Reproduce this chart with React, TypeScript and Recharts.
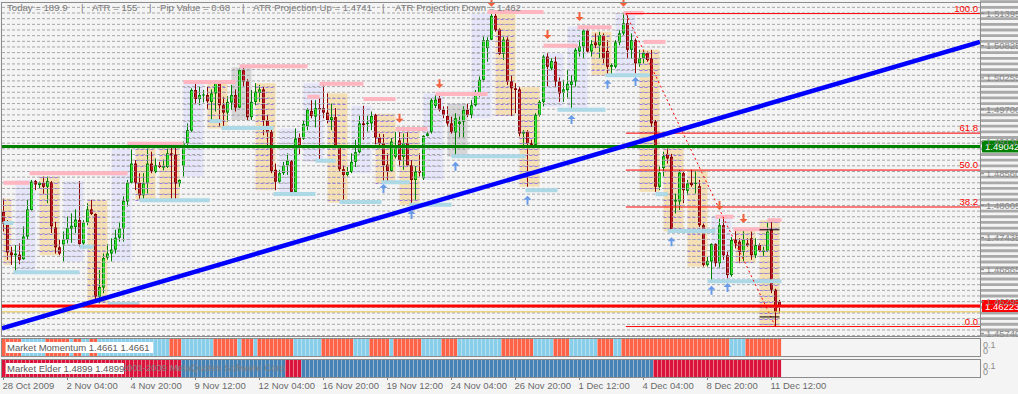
import React from 'react';
import { ComposedChart, BarChart, Bar, XAxis, YAxis, ReferenceLine, ReferenceArea, ReferenceDot, Cell } from 'recharts';

const FONT = '"Liberation Sans", Arial, sans-serif';
const BG = '#f4f4f4';

// ---------- data (H4 EURUSD-like bars, 28 Oct 2009 12:00 .. 11 Dec 2009 16:00) ----------
const OPEN = [
  1.4789, 1.4770, 1.4717, 1.4712, 1.4713, 1.4705, 1.4745, 1.4792, 1.4843, 1.4836,
  1.4840, 1.4833, 1.4841, 1.4761, 1.4726, 1.4731, 1.4740, 1.4759, 1.4762, 1.4774,
  1.4733, 1.4770, 1.4793, 1.4785, 1.4639, 1.4655, 1.4708, 1.4715, 1.4722, 1.4743,
  1.4759, 1.4807, 1.4840, 1.4874, 1.4840, 1.4818, 1.4840, 1.4874, 1.4859, 1.4871,
  1.4867, 1.4868, 1.4892, 1.4890, 1.4839, 1.4870, 1.4910, 1.4932, 1.5004, 1.4988,
  1.4995, 1.4995, 1.4983, 1.4998, 1.5017, 1.4977, 1.4964, 1.4982, 1.4995, 1.4973,
  1.5039, 1.5019, 1.4956, 1.4983, 1.4999, 1.5005, 1.4950, 1.4930, 1.4863, 1.4842,
  1.4857, 1.4871, 1.4878, 1.4824, 1.4920, 1.4918, 1.4940, 1.4967, 1.4957, 1.4972,
  1.4972, 1.4964, 1.4951, 1.4956, 1.4903, 1.4864, 1.4854, 1.4859, 1.4877, 1.4894,
  1.4945, 1.4944, 1.4945, 1.4960, 1.4920, 1.4910, 1.4872, 1.4861, 1.4886, 1.4915,
  1.4886, 1.4910, 1.4871, 1.4845, 1.4861, 1.4848, 1.4923, 1.4930, 1.4976, 1.4989,
  1.4969, 1.4958, 1.4945, 1.4929, 1.4944, 1.4948, 1.4969, 1.4960, 1.4977, 1.4997,
  1.5022, 1.5078, 1.5093, 1.5135, 1.5111, 1.5068, 1.5093, 1.5019, 1.5007, 1.5005,
  1.4927, 1.4930, 1.4910, 1.4907, 1.4960, 1.4983, 1.5063, 1.5042, 1.5054, 1.5019,
  1.4999, 1.5004, 1.5013, 1.5019, 1.5072, 1.5081, 1.5109, 1.5072, 1.5088, 1.5083,
  1.5101, 1.5073, 1.5045, 1.5045, 1.5088, 1.5104, 1.5122, 1.5075, 1.5092, 1.5051,
  1.5060, 1.5069, 1.5060, 1.4948, 1.4833, 1.4866, 1.4891, 1.4886, 1.4807, 1.4807,
  1.4857, 1.4826, 1.4840, 1.4838, 1.4834, 1.4765, 1.4695, 1.4701, 1.4732, 1.4698,
  1.4765, 1.4712, 1.4677, 1.4739, 1.4736, 1.4718, 1.4733, 1.4742, 1.4712, 1.4730,
  1.4718, 1.4720, 1.4757, 1.4651, 1.4630,
];
const HIGH = [
  1.4812, 1.4774, 1.4727, 1.4730, 1.4733, 1.4763, 1.4810, 1.4845, 1.4845, 1.4842,
  1.4851, 1.4851, 1.4843, 1.4771, 1.4739, 1.4754, 1.4781, 1.4786, 1.4793, 1.4843,
  1.4774, 1.4804, 1.4810, 1.4786, 1.4686, 1.4715, 1.4732, 1.4742, 1.4757, 1.4771,
  1.4816, 1.4845, 1.4899, 1.4880, 1.4857, 1.4857, 1.4901, 1.4895, 1.4883, 1.4877,
  1.4881, 1.4901, 1.4903, 1.4910, 1.4846, 1.4913, 1.4945, 1.5007, 1.5019, 1.5010,
  1.5004, 1.5010, 1.5005, 1.5019, 1.5020, 1.4992, 1.4993, 1.5013, 1.5005, 1.5042,
  1.5044, 1.5023, 1.5004, 1.5016, 1.5013, 1.5010, 1.4960, 1.4936, 1.4874, 1.4863,
  1.4877, 1.4892, 1.4880, 1.4936, 1.4927, 1.4951, 1.4972, 1.4986, 1.4986, 1.4989,
  1.5016, 1.4998, 1.4980, 1.4972, 1.4907, 1.4871, 1.4868, 1.4892, 1.4916, 1.4958,
  1.4976, 1.4958, 1.4966, 1.4962, 1.4927, 1.4926, 1.4892, 1.4919, 1.4930, 1.4930,
  1.4927, 1.4930, 1.4880, 1.4869, 1.4892, 1.4924, 1.4930, 1.4989, 1.4995, 1.4998,
  1.4975, 1.4975, 1.4957, 1.4963, 1.4957, 1.4975, 1.4980, 1.4986, 1.5004, 1.5028,
  1.5098, 1.5097, 1.5139, 1.5139, 1.5113, 1.5098, 1.5097, 1.5029, 1.5016, 1.5009,
  1.4933, 1.4933, 1.4916, 1.4963, 1.4986, 1.5066, 1.5069, 1.5060, 1.5063, 1.5026,
  1.5022, 1.5039, 1.5030, 1.5078, 1.5092, 1.5113, 1.5116, 1.5092, 1.5104, 1.5107,
  1.5104, 1.5092, 1.5051, 1.5092, 1.5110, 1.5140, 1.5136, 1.5104, 1.5095, 1.5075,
  1.5075, 1.5072, 1.5075, 1.4951, 1.4869, 1.4895, 1.4904, 1.4891, 1.4821, 1.4863,
  1.4860, 1.4845, 1.4863, 1.4860, 1.4845, 1.4768, 1.4709, 1.4733, 1.4733, 1.4777,
  1.4780, 1.4718, 1.4744, 1.4757, 1.4742, 1.4757, 1.4742, 1.4754, 1.4742, 1.4733,
  1.4727, 1.4771, 1.4774, 1.4653, 1.4633,
];
const LOW = [
  1.4754, 1.4704, 1.4695, 1.4681, 1.4696, 1.4704, 1.4739, 1.4791, 1.4827, 1.4830,
  1.4820, 1.4804, 1.4751, 1.4715, 1.4712, 1.4701, 1.4733, 1.4734, 1.4751, 1.4727,
  1.4724, 1.4765, 1.4783, 1.4634, 1.4627, 1.4645, 1.4704, 1.4701, 1.4715, 1.4736,
  1.4736, 1.4798, 1.4839, 1.4827, 1.4811, 1.4810, 1.4821, 1.4857, 1.4857, 1.4866,
  1.4862, 1.4866, 1.4810, 1.4811, 1.4833, 1.4851, 1.4907, 1.4930, 1.4980, 1.4977,
  1.4982, 1.4969, 1.4948, 1.4966, 1.4939, 1.4936, 1.4948, 1.4969, 1.4966, 1.4972,
  1.5010, 1.4951, 1.4951, 1.4977, 1.4983, 1.4924, 1.4901, 1.4857, 1.4827, 1.4839,
  1.4854, 1.4854, 1.4822, 1.4821, 1.4889, 1.4916, 1.4933, 1.4954, 1.4938, 1.4877,
  1.4954, 1.4945, 1.4933, 1.4901, 1.4860, 1.4805, 1.4851, 1.4857, 1.4868, 1.4892,
  1.4916, 1.4930, 1.4933, 1.4908, 1.4901, 1.4840, 1.4839, 1.4860, 1.4883, 1.4869,
  1.4863, 1.4869, 1.4801, 1.4810, 1.4851, 1.4845, 1.4922, 1.4927, 1.4972, 1.4966,
  1.4954, 1.4939, 1.4927, 1.4886, 1.4919, 1.4920, 1.4956, 1.4954, 1.4975, 1.4992,
  1.5019, 1.5054, 1.5092, 1.5107, 1.5066, 1.5057, 1.5013, 1.4958, 1.4963, 1.4922,
  1.4904, 1.4833, 1.4904, 1.4904, 1.4957, 1.4975, 1.5010, 1.5039, 1.5010, 1.4983,
  1.4983, 1.4989, 1.4969, 1.5010, 1.5063, 1.5060, 1.5069, 1.5063, 1.5078, 1.5060,
  1.5051, 1.5030, 1.5030, 1.5042, 1.5083, 1.5101, 1.5060, 1.5060, 1.5033, 1.5045,
  1.5051, 1.5054, 1.4939, 1.4824, 1.4827, 1.4851, 1.4874, 1.4754, 1.4786, 1.4792,
  1.4804, 1.4818, 1.4833, 1.4821, 1.4762, 1.4692, 1.4692, 1.4665, 1.4692, 1.4689,
  1.4704, 1.4671, 1.4674, 1.4724, 1.4698, 1.4701, 1.4727, 1.4704, 1.4707, 1.4718,
  1.4709, 1.4718, 1.4645, 1.4586, 1.4609,
];
const CLOSE = [
  1.4768, 1.4717, 1.4712, 1.4715, 1.4704, 1.4745, 1.4793, 1.4842, 1.4837, 1.4840,
  1.4833, 1.4843, 1.4763, 1.4726, 1.4715, 1.4740, 1.4760, 1.4764, 1.4775, 1.4732,
  1.4770, 1.4793, 1.4785, 1.4639, 1.4656, 1.4707, 1.4715, 1.4722, 1.4743, 1.4759,
  1.4808, 1.4840, 1.4874, 1.4840, 1.4818, 1.4839, 1.4874, 1.4861, 1.4871, 1.4868,
  1.4870, 1.4892, 1.4889, 1.4839, 1.4845, 1.4910, 1.4933, 1.5004, 1.4988, 1.4995,
  1.4996, 1.4984, 1.4998, 1.5017, 1.4977, 1.4964, 1.4983, 1.4995, 1.4973, 1.5039,
  1.5019, 1.4956, 1.4983, 1.5001, 1.5005, 1.4950, 1.4930, 1.4861, 1.4842, 1.4857,
  1.4871, 1.4879, 1.4824, 1.4918, 1.4903, 1.4944, 1.4969, 1.4958, 1.4972, 1.4970,
  1.4964, 1.4951, 1.4956, 1.4903, 1.4864, 1.4854, 1.4859, 1.4877, 1.4894, 1.4945,
  1.4942, 1.4946, 1.4958, 1.4920, 1.4910, 1.4871, 1.4861, 1.4913, 1.4904, 1.4880,
  1.4910, 1.4871, 1.4845, 1.4860, 1.4858, 1.4923, 1.4927, 1.4986, 1.4987, 1.4969,
  1.4960, 1.4945, 1.4930, 1.4954, 1.4948, 1.4969, 1.4960, 1.4977, 1.4998, 1.5022,
  1.5092, 1.5092, 1.5135, 1.5110, 1.5068, 1.5093, 1.5019, 1.5007, 1.5004, 1.4927,
  1.4930, 1.4910, 1.4907, 1.4960, 1.4983, 1.5063, 1.5045, 1.5055, 1.5019, 1.4998,
  1.5005, 1.5015, 1.5019, 1.5075, 1.5081, 1.5109, 1.5072, 1.5085, 1.5083, 1.5101,
  1.5060, 1.5045, 1.5048, 1.5088, 1.5104, 1.5122, 1.5075, 1.5092, 1.5051, 1.5060,
  1.5069, 1.5057, 1.4945, 1.4833, 1.4858, 1.4887, 1.4883, 1.4757, 1.4810, 1.4858,
  1.4827, 1.4839, 1.4836, 1.4840, 1.4765, 1.4695, 1.4702, 1.4732, 1.4698, 1.4765,
  1.4712, 1.4677, 1.4739, 1.4733, 1.4718, 1.4740, 1.4730, 1.4712, 1.4730, 1.4720,
  1.4721, 1.4754, 1.4651, 1.4612, 1.4622,
];

const FIRST_FULL_DAY_BAR = 3;
const BARS_PER_DAY = 6;

const PRICE_TICKS = [1.51395, 1.50825, 1.50255, 1.497, 1.4913, 1.4856, 1.48005, 1.47435, 1.46865, 1.46295, 1.4574];
const DATE_TICKS = [0, 16, 32, 48, 64, 80, 96, 112, 128, 144, 160, 176, 192];
const DATE_LABELS = ['28 Oct 2009', '2 Nov 04:00', '4 Nov 20:00', '9 Nov 12:00', '12 Nov 04:00', '16 Nov 20:00', '19 Nov 12:00', '24 Nov 04:00', '26 Nov 20:00', '1 Dec 12:00', '4 Dec 04:00', '8 Dec 20:00', '11 Dec 12:00'];

// resistance (pink) / support (light blue) steps: [fromBar, toBar, price]
const RESISTANCE = [
  [0, 6.5, 1.4840], [6.5, 31, 1.4857], [31, 45, 1.4909], [45, 58, 1.5018], [59, 76, 1.5046],
  [76, 79, 1.4992], [79, 90, 1.5015], [90, 98, 1.4988], [98, 106, 1.4935], [108, 121, 1.4997],
  [121, 135, 1.5142], [135, 143.5, 1.5082], [143.5, 152, 1.5115], [155, 160, 1.5140], [160, 165.5, 1.5089],
  [178, 182.5, 1.4780], [182.5, 191, 1.4758], [191, 194.5, 1.4774],
];
const SUPPORT = [
  [0, 2.5, 1.4769], [2.5, 19, 1.4682], [19, 22.5, 1.4727], [26, 34, 1.4626], [34, 51.5, 1.4809],
  [51.5, 54.5, 1.4949], [54.5, 67.5, 1.4937], [67.5, 78, 1.4820], [78, 83, 1.4879], [84, 94.5, 1.4806],
  [94.5, 101.5, 1.4841], [101.5, 112, 1.4801], [112, 130.5, 1.4887], [130.5, 138.5, 1.4827], [138.5, 150.5, 1.4969],
  [150.5, 161.5, 1.5030], [163, 166, 1.4820], [166, 178, 1.4755], [176, 194.5, 1.4666],
];
const SELL_SIGNALS = [[99, 1.4946], [109, 1.5007], [122, 1.5151], [136, 1.5094], [144, 1.5126], [155, 1.5151], [179, 1.4792], [185, 1.4769]];
const BUY_SIGNALS = [[95, 1.4838], [102, 1.4792], [113, 1.4877], [131, 1.4817], [142, 1.4960], [151, 1.5022], [158, 1.5027], [167, 1.4744], [177, 1.4658], [181, 1.4663]];

const FIB_HIGH = 1.5139;
const FIB_LOW = 1.4586;
const FIB_FROM_BAR = 155.6;
const FIB_TO_BAR = 193;
const FIB_RATIOS = [1, 0.618, 0.5, 0.382, 0];
const FIB_LABELS = ['100.0', '61.8', '50.0', '38.2', '0.0'];

const BID = 1.46223;
const KEY_LEVEL = 1.49042;
const ASK_LINE = 1.4612;
const TREND_FROM = [-0.375, 1.4583];
const TREND_TO = [244.125, 1.5089];
const ATR_MARKS = [[189, 194, 1.4757], [189, 194, 1.4603]];

// indicator panels: runs [fromBar, toBar, state]  (1 = up / blue, -1 = down / red)
const MOMENTUM_RUNS = [
  [0, 4, -1], [5, 10, 1], [11, 16, -1], [17, 17, 1], [18, 19, -1], [20, 21, 1], [22, 23, -1], [24, 41, 1],
  [42, 44, -1], [45, 52, 1], [53, 58, -1], [59, 59, 1], [60, 62, -1], [63, 63, 1], [64, 72, -1], [73, 79, 1],
  [80, 87, -1], [88, 91, 1], [92, 96, -1], [97, 97, 1], [98, 104, -1], [105, 109, 1], [110, 113, -1], [114, 124, 1],
  [125, 132, -1], [133, 137, 1], [138, 141, -1], [142, 148, 1], [149, 152, -1], [153, 154, 1], [155, 181, -1],
  [182, 185, 1], [186, 194, -1],
];
const ELDER_RUNS = [[0, 44, -1], [45, 70, 1], [71, 74, -1], [75, 162, 1], [163, 194, -1]];

const HEADER = ['Today = 189.9', '|', 'ATR = 155', '|', 'Pip Value = 0.68', '|', 'ATR Projection Up = 1.4741', '|', 'ATR Projection Down = 1.462'];

// ---------- derived ----------
const X_DOMAIN: [number, number] = [-0.375, 244.125];
const Y_DOMAIN: [number, number] = [1.45693, 1.51577];
const AXIS_END = 253.625;

const BARS = OPEN.map((o, i) => ({ i, o, h: HIGH[i], l: LOW[i], c: CLOSE[i], range: [LOW[i], HIGH[i]], one: 1 }));

const GRID_LEVELS: number[] = [];
for (let k = 1457; k <= 1516; k++) GRID_LEVELS.push(k / 1000);

type Day = { s: number; e: number; lo: number; hi: number; kind: string };
const DAYS: Day[] = [];
{
  let s = 0;
  while (s < OPEN.length) {
    const e = Math.min(s < FIRST_FULL_DAY_BAR ? FIRST_FULL_DAY_BAR - 1 : s + BARS_PER_DAY - 1, OPEN.length - 1);
    const lo = Math.min(...LOW.slice(s, e + 1));
    const hi = Math.max(...HIGH.slice(s, e + 1));
    const d = CLOSE[e] - OPEN[s];
    DAYS.push({ s, e, lo, hi, kind: Math.abs(d) < 0.00025 ? 'flat' : d > 0 ? 'up' : 'down' });
    s = e + 1;
  }
}

const expandRuns = (runs: number[][]) => {
  const out: number[] = [];
  runs.forEach(([a, b, v]) => { for (let k = a; k <= b; k++) out[k] = v; });
  return out;
};
const MOMENTUM = expandRuns(MOMENTUM_RUNS);
const ELDER = expandRuns(ELDER_RUNS);

// ---------- shapes ----------
function Candle(props: any) {
  const { x, y, width, height, payload } = props;
  if (!payload || x == null) return null;
  const { o, h, l, c } = payload;
  const top = Math.min(y, y + height);
  const bot = Math.max(y, y + height);
  const span = h - l || 1e-9;
  const py = (v: number) => top + ((h - v) / span) * (bot - top);
  const cx = Math.round(x + width / 2 - 0.5) + 0.5;
  const up = c >= o;
  const edge = up ? '#008000' : '#800000';
  const fill = up ? '#33ee33' : '#c41a2a';
  const bt = py(Math.max(o, c));
  const bb = py(Math.min(o, c));
  const bh = Math.max(bb - bt, 1);
  return (
    <g>
      <line x1={cx} x2={cx} y1={top} y2={bot} stroke={up ? '#008000' : '#900000'} strokeWidth={1} />
      <rect x={cx - 1.5} y={bt} width={3} height={bh} fill={edge} />
      {bh > 2 && <rect x={cx - 0.5} y={bt + 1} width={1.6} height={bh - 2} fill={fill} />}
    </g>
  );
}

function DayBox(props: any, day: Day) {
  const { x, y, width, height } = props;
  if (x == null) return null;
  const fill = day.kind === 'up' ? '#e6e6fa' : day.kind === 'down' ? '#f5e0b5' : '#d6d6d6';
  const dash = day.kind === 'down' ? '#a078e8' : '#b8b8c8';
  const per = height / (day.hi - day.lo);
  const lines: any[] = [];
  for (let k = Math.ceil(day.lo * 1000 - 1e-6); k <= Math.floor(day.hi * 1000 + 1e-6); k++) {
    const ly = Math.round(y + (day.hi - k / 1000) * per) + 0.5;
    lines.push(<line key={k} x1={x} x2={x + width} y1={ly} y2={ly} stroke={dash} strokeDasharray="3 2" strokeWidth={1} />);
  }
  return (
    <g>
      <rect x={x} y={y} width={width} height={height} fill={fill} />
      {lines}
    </g>
  );
}

function Arrow(props: any, up: boolean) {
  const { cx, cy } = props;
  if (cx == null) return null;
  const s = up ? 1 : -1; // direction from tip toward shaft
  const pts = [
    [cx, cy], [cx - 4, cy + s * 4], [cx - 1, cy + s * 4], [cx - 1, cy + s * 9],
    [cx + 1, cy + s * 9], [cx + 1, cy + s * 4], [cx + 4, cy + s * 4],
  ].map((p) => p.join(',')).join(' ');
  return <polygon points={pts} fill={up ? '#6a9be8' : '#f2603c'} />;
}

function PriceTick(props: any) {
  const { x, y, payload } = props;
  return (
    <g>
      <line x1={x} x2={x + 4} y1={y} y2={y} stroke="#808080" />
      <text x={x + 6} y={y + 3.5} fontSize={9.5} fill="#8a8a8a" fontFamily={FONT}>{Number(payload.value).toFixed(5)}</text>
    </g>
  );
}

function PriceBox(props: any, color: string, text: string) {
  const { cx, cy } = props;
  if (cx == null) return null;
  return (
    <g>
      <rect x={cx + 2} y={cy - 6} width={38} height={12} fill={color} />
      <text x={cx + 5} y={cy + 3.5} fontSize={9.5} fill="#ffffff" fontFamily={FONT}>{text}</text>
    </g>
  );
}

function FibLabel(props: any, text: string) {
  const { cx, cy } = props;
  if (cx == null) return null;
  return <text x={cx - 2} y={cy - 2} fontSize={9.5} fill="#ff0000" textAnchor="end" fontFamily={FONT}>{text}</text>;
}

function DateTick(props: any) {
  const { x, y, payload } = props;
  const k = DATE_TICKS.indexOf(payload.value);
  return (
    <g>
      <line x1={x} x2={x} y1={y} y2={y + 3} stroke="#808080" />
      <text x={x - 1} y={y + 12} fontSize={9.5} fill="#6a6a6a" fontFamily={FONT}>{DATE_LABELS[k]}</text>
    </g>
  );
}

function MainChart() {
  return (
    <ComposedChart width={1018} height={337} data={BARS} margin={{ top: 3, right: 0, bottom: 1, left: 2 }}>
      <XAxis dataKey="i" type="number" domain={X_DOMAIN} hide allowDataOverflow />
      <YAxis orientation="right" width={38} type="number" domain={Y_DOMAIN} allowDataOverflow ticks={PRICE_TICKS}
        interval={0} tick={PriceTick} tickSize={0} tickMargin={0} axisLine={false} tickLine={false} />
      {GRID_LEVELS.map((lv) => (
        <ReferenceArea key={'ax' + lv} x1={X_DOMAIN[1]} x2={AXIS_END} y1={lv - 0.00025} y2={lv + 0.00025}
          fill="#a9a9a9" fillOpacity={1} stroke="none" ifOverflow="visible" />
      ))}
      {GRID_LEVELS.map((lv) => (
        <ReferenceLine key={'g' + lv} y={lv} stroke="#a6a6a6" strokeDasharray="3 2" strokeWidth={1} ifOverflow="hidden" />
      ))}
      {DAYS.map((d) => (
        <ReferenceArea key={'d' + d.s} x1={d.s} x2={d.e} y1={d.lo} y2={d.hi} ifOverflow="hidden"
          shape={(p: any) => DayBox(p, d)} />
      ))}
      {RESISTANCE.map(([a, b, p]) => (
        <ReferenceLine key={'r' + a} segment={[{ x: a, y: p }, { x: b, y: p }]} stroke="#ffb6c1" strokeWidth={4} ifOverflow="hidden" />
      ))}
      {SUPPORT.map(([a, b, p]) => (
        <ReferenceLine key={'s' + a} segment={[{ x: a, y: p }, { x: b, y: p }]} stroke="#add8e6" strokeWidth={4} ifOverflow="hidden" />
      ))}
      {FIB_RATIOS.map((r) => (
        <ReferenceLine key={'f' + r} segment={[{ x: FIB_FROM_BAR, y: FIB_LOW + r * (FIB_HIGH - FIB_LOW) }, { x: X_DOMAIN[1], y: FIB_LOW + r * (FIB_HIGH - FIB_LOW) }]}
          stroke="#ff0000" strokeWidth={1} ifOverflow="hidden" />
      ))}
      <ReferenceLine segment={[{ x: FIB_FROM_BAR, y: FIB_HIGH }, { x: FIB_TO_BAR, y: FIB_LOW }]} stroke="#ff0000" strokeDasharray="2 3" strokeWidth={1} ifOverflow="hidden" />
      {ATR_MARKS.map(([a, b, p]) => (
        <ReferenceLine key={'atr' + p} segment={[{ x: a, y: p }, { x: b, y: p }]} stroke="#000000" strokeWidth={1} ifOverflow="hidden" />
      ))}
      <ReferenceLine y={ASK_LINE} stroke="#e8c44a" strokeWidth={1} ifOverflow="hidden" />
      <ReferenceLine y={KEY_LEVEL} stroke="#008000" strokeWidth={3} ifOverflow="hidden" />
      <ReferenceLine y={BID} stroke="#ff0000" strokeWidth={3} ifOverflow="hidden" />
      <ReferenceLine segment={[{ x: TREND_FROM[0], y: TREND_FROM[1] }, { x: TREND_TO[0], y: TREND_TO[1] }]} stroke="#0000ff" strokeWidth={4.5} ifOverflow="hidden" />
      <Bar dataKey="range" barSize={3} isAnimationActive={false} shape={Candle} />
      {SELL_SIGNALS.map(([b, p]) => (
        <ReferenceDot key={'sell' + b} x={b} y={p} r={0} ifOverflow="visible" shape={(q: any) => Arrow(q, false)} />
      ))}
      {BUY_SIGNALS.map(([b, p]) => (
        <ReferenceDot key={'buy' + b} x={b} y={p} r={0} ifOverflow="visible" shape={(q: any) => Arrow(q, true)} />
      ))}
      {FIB_RATIOS.map((r, k) => (
        <ReferenceDot key={'fl' + r} x={X_DOMAIN[1]} y={FIB_LOW + r * (FIB_HIGH - FIB_LOW)} r={0} ifOverflow="visible"
          shape={(q: any) => FibLabel(q, FIB_LABELS[k])} />
      ))}
      <ReferenceDot x={X_DOMAIN[1]} y={KEY_LEVEL} r={0} ifOverflow="visible" shape={(q: any) => PriceBox(q, '#008000', KEY_LEVEL.toFixed(5))} />
      <ReferenceDot x={X_DOMAIN[1]} y={BID} r={0} ifOverflow="visible" shape={(q: any) => PriceBox(q, '#ff0000', BID.toFixed(5))} />
    </ComposedChart>
  );
}

function Panel({ values, up, down, withDates }: { values: number[]; up: string; down: string; withDates?: boolean }) {
  return (
    <BarChart width={1018} height={withDates ? 35 : 17} data={BARS} margin={{ top: 0, right: 38, bottom: 0, left: 2 }} barCategoryGap={0} barGap={0}>
      <XAxis dataKey="i" type="number" domain={X_DOMAIN} allowDataOverflow hide={!withDates} ticks={DATE_TICKS} interval={0}
        tick={DateTick} tickSize={0} tickMargin={0} axisLine={false} tickLine={false} height={18} />
      <YAxis domain={[0, 1]} hide />
      <Bar dataKey="one" barSize={4} isAnimationActive={false}>
        {BARS.map((b) => <Cell key={b.i} fill={values[b.i] > 0 ? up : down} />)}
      </Bar>
    </BarChart>
  );
}

const HEADER_X = [7, 81, 92, 149, 160, 242, 253, 382, 395];

export default function App() {
  return (
    <div style={{ position: 'fixed', left: 0, top: 0, width: 1018, height: 394, background: BG, overflow: 'hidden' }}>
      <div style={{ position: 'absolute', left: 0, top: 0 }}><MainChart /></div>
      <div style={{ position: 'absolute', left: 1, top: 2, width: 980, height: 335, border: '1px solid #8c8c8c', boxSizing: 'border-box', pointerEvents: 'none' }} />
      <div style={{ position: 'absolute', left: 0, top: 339 }}><Panel values={MOMENTUM} up="#87ceeb" down="#ff6347" /></div>
      <div style={{ position: 'absolute', left: 1, top: 338, width: 980, height: 19, border: '1px solid #8c8c8c', boxSizing: 'border-box' }} />
      <div style={{ position: 'absolute', left: 0, top: 360 }}><Panel values={ELDER} up="#4682b4" down="#dc143c" withDates /></div>
      <div style={{ position: 'absolute', left: 1, top: 359, width: 980, height: 19, border: '1px solid #8c8c8c', boxSizing: 'border-box' }} />
      <svg width={1018} height={394} style={{ position: 'absolute', left: 0, top: 0, pointerEvents: 'none' }}>
        {HEADER.map((t, k) => (
          <text key={k} x={HEADER_X[k]} y={11} fontSize={9.6} fill="#7a7a7a" fontFamily={FONT}>{t}</text>
        ))}
        <rect x={6} y={342} width={147} height={11} fill="#ffffff" />
        <text x={7} y={351} fontSize={9.5} fill="#5a5a5a" fontFamily={FONT}>Market Momentum 1.4661 1.4661</text>
        <text x={112} y={371} fontSize={9.5} fill="#808080" fontFamily={FONT}>© 2001-2009 MetaQuotes Software Corp.</text>
        <rect x={6} y={363} width={118} height={11} fill="#ffffff" />
        <text x={7} y={372} fontSize={9.5} fill="#5a5a5a" fontFamily={FONT}>Market Elder 1.4899 1.4899</text>
        <text x={983} y={348} fontSize={9} fill="#8a8a8a" fontFamily={FONT}>0.1</text>
        <text x={983} y={354} fontSize={9} fill="#8a8a8a" fontFamily={FONT}>0</text>
        <text x={983} y={369} fontSize={9} fill="#8a8a8a" fontFamily={FONT}>0.1</text>
        <text x={983} y={375} fontSize={9} fill="#8a8a8a" fontFamily={FONT}>0</text>
      </svg>
    </div>
  );
}
